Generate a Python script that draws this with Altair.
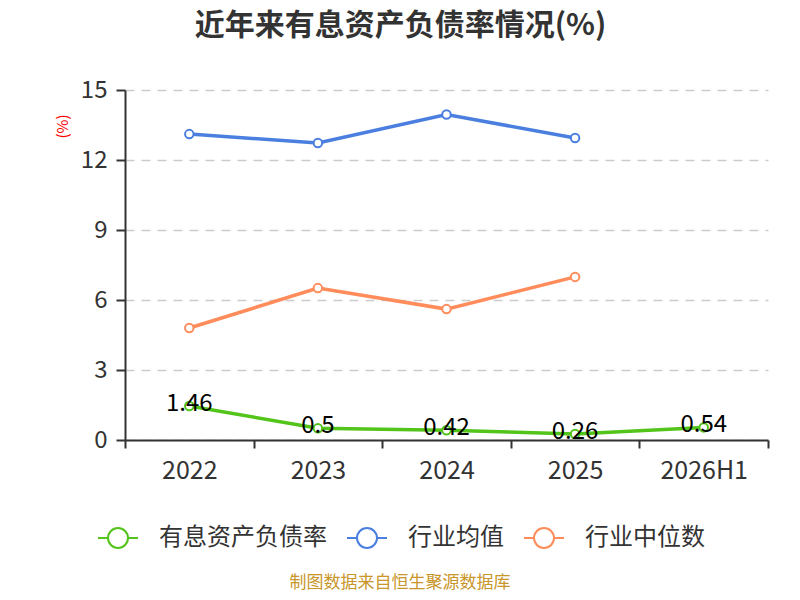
import altair as alt
import pandas as pd

categories = ["2022", "2023", "2024", "2025", "2026H1"]
series_names = ["有息资产负债率", "行业均值", "行业中位数"]
debt_ratio = [1.46, 0.5, 0.42, 0.26, 0.54]
industry_avg = [13.11, 12.73, 13.95, 12.94]
industry_median = [4.80, 6.51, 5.61, 6.99]
colors = ["#52c41a", "#4a7fe0", "#ff8c5a"]
y_ticks = [0, 3, 6, 9, 12, 15]
source_text = ["制图数据来自恒生聚源数据库"]

rows = []
for name, vals in zip(series_names, [debt_ratio, industry_avg, industry_median]):
    for i, v in enumerate(vals):
        rows.append({"year": categories[i], "series": name, "value": v})
df = pd.DataFrame(rows)
label_df = df[df["series"] == series_names[0]].copy()
label_df["label"] = [str(v) for v in debt_ratio]

FONT = "Noto Sans CJK SC"
legend_symbol = (
    "M-1,0L-0.5,0M0.5,0L1,0"
    "M0.5,0A0.5,0.5,0,1,1,-0.5,0A0.5,0.5,0,1,1,0.5,0Z"
)

x_enc = alt.X(
    "year:N",
    sort=categories,
    scale=alt.Scale(type="band", domain=categories, paddingInner=0, paddingOuter=0),
    bandPosition=0.5,
    axis=alt.Axis(
        title=None,
        labelAngle=0,
        labelFontSize=25,
        labelColor="#333333",
        labelPadding=10,
        labelFont=FONT,
        domainColor="#333333",
        domainWidth=2,
        tickColor="#333333",
        tickWidth=2,
        tickSize=8,
        tickBand="extent",
        grid=False,
    ),
)
y_enc = alt.Y(
    "value:Q",
    scale=alt.Scale(domain=[0, 15], nice=False),
    axis=alt.Axis(
        title="(%)",
        titleColor="#ff0000",
        titleFontSize=15,
        titleFont=FONT,
        titleFontWeight="normal",
        titleX=-63,
        titleY=36,
        titleAlign="center",
        titleBaseline="middle",
        values=y_ticks,
        labelFontSize=24,
        labelColor="#333333",
        labelFont=FONT,
        labelPadding=9,
        domainColor="#333333",
        domainWidth=2,
        tickColor="#333333",
        tickWidth=2,
        tickSize=9,
        grid=True,
        gridColor="#cccccc",
        gridDash=[9, 7],
        gridWidth=1.5,
    ),
)

color_enc = alt.Color(
    "series:N",
    scale=alt.Scale(domain=series_names, range=colors),
    sort=series_names,
    legend=alt.Legend(
        title=None,
        orient="none",
        legendX=-28,
        legendY=427,
        direction="horizontal",
        symbolType=legend_symbol,
        symbolSize=1600,
        symbolStrokeWidth=2,
        symbolFillColor="white",
        labelFontSize=24,
        labelFont=FONT,
        labelColor="#333333",
        labelOffset=20,
        labelLimit=400,
        columnPadding=16,
    ),
)

lines = alt.Chart(df).mark_line(strokeWidth=3.5).encode(
    x=x_enc, y=y_enc, color=color_enc, detail="series:N"
)
points = alt.Chart(df).mark_point(
    filled=False, fill="white", fillOpacity=1, size=72, strokeWidth=2, opacity=1
).encode(x=x_enc, y=y_enc, color=alt.Color("series:N", scale=alt.Scale(domain=series_names, range=colors), legend=None))

labels = alt.Chart(label_df).mark_text(
    fontSize=24, font=FONT, color="#000000", baseline="middle", dy=-2
).encode(x=x_enc, y=y_enc, text="label:N")

source = alt.Chart(pd.DataFrame({"t": source_text})).mark_text(
    fontSize=17, font=FONT, color="#c8962a", align="center", baseline="middle"
).encode(x=alt.value(275), y=alt.value(493), text="t:N")

chart = (
    alt.layer(lines, points, labels, source)
    .properties(
        width=643,
        height=350,
        background="white",
        autosize=alt.AutoSizeParams(type="none"),
        padding={"left": 117, "top": 82, "right": 24, "bottom": 152},
        title=alt.TitleParams(
            "近年来有息资产负债率情况(%)",
            fontSize=30,
            font=FONT,
            fontWeight="bold",
            color="#333333",
            anchor="middle",
            dx=-46,
            offset=37,
        ),
    )
    .configure_view(strokeWidth=0, stroke="transparent")
)

chart.save("out.html", embed_options={"renderer": "svg", "actions": False})
